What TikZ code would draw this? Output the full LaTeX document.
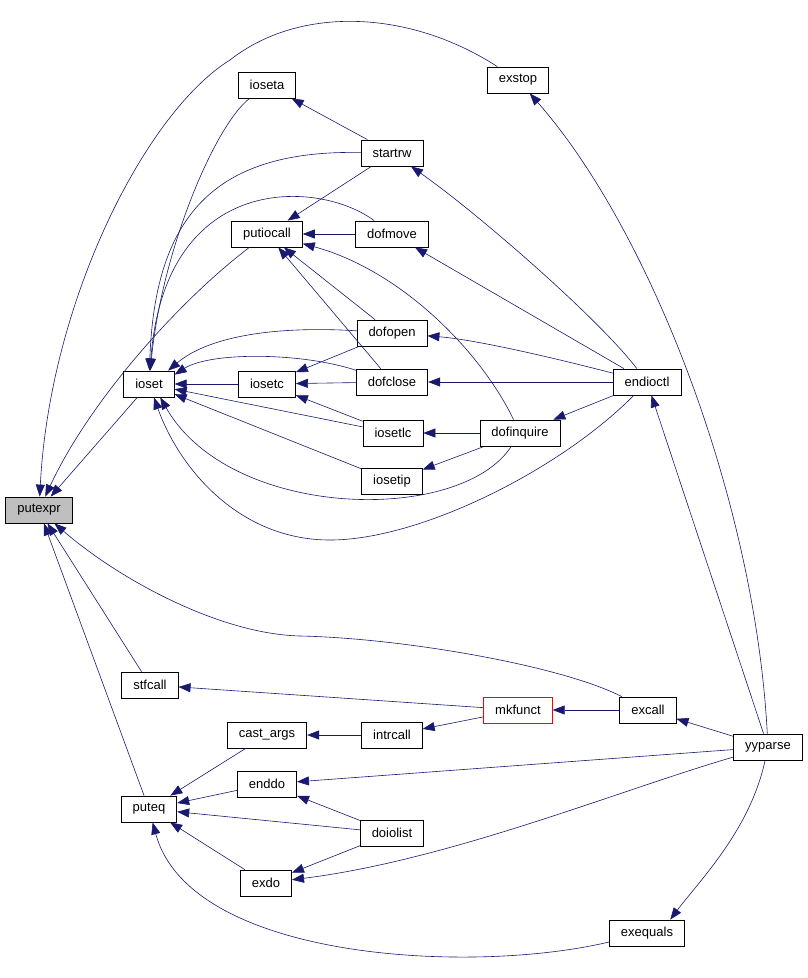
\documentclass[tikz,border=0pt]{standalone}
\usepackage{fontspec}
\setmainfont{Liberation Sans}
\usetikzlibrary{arrows.meta}
\tikzset{>={Triangle[length=12pt,width=9pt]}}
\definecolor{callblue}{HTML}{191970}

\begin{document}
\begin{tikzpicture}[x=1pt,y=-1pt,
                    func/.style={draw=black,line width=0.8pt,fill=white,text=black,inner xsep=11.5pt,inner ysep=0pt,minimum height=26pt,font=\fontsize{13}{15}\selectfont},
                    target/.style={func,fill=black!25},
                    marked/.style={func,draw=red},
                    call/.style={->,color=callblue,line width=0.6pt},
       ]
       \useasboundingbox (0,0) rectangle (807,978);
       \node[target] (putexpr) at (39,510) {putexpr};
       \node[func] (ioseta) at (267,85) {ioseta};
       \node[func] (exstop) at (518,80) {exstop};
       \node[func] (startrw) at (392,153) {startrw};
       \node[func] (putiocall) at (267,234) {putiocall};
       \node[func] (dofmove) at (392,234) {dofmove};
       \node[func] (dofopen) at (392,333) {dofopen};
       \node[func] (ioset) at (149,384) {ioset};
       \node[func] (iosetc) at (267,384) {iosetc};
       \node[func] (dofclose) at (392,382) {dofclose};
       \node[func] (endioctl) at (647,382) {endioctl};
       \node[func] (iosetlc) at (393,433) {iosetlc};
       \node[func] (dofinquire) at (520,433) {dofinquire};
       \node[func] (iosetip) at (392,481) {iosetip};
       \node[func] (stfcall) at (150,685) {stfcall};
       \node[marked] (mkfunct) at (518,710) {mkfunct};
       \node[func] (excall) at (648,710) {excall};
       \node[func] (cast_args) at (267,735) {cast\_args};
       \node[func] (intrcall) at (392,735) {intrcall};
       \node[func] (yyparse) at (768,747) {yyparse};
       \node[func] (enddo) at (267,784) {enddo};
       \node[func] (puteq) at (149,809) {puteq};
       \node[func] (doiolist) at (392,833) {doiolist};
       \node[func] (exdo) at (266,883) {exdo};
       \node[func] (exequals) at (647,933) {exequals};
       \path[call]
           (ioset) edge (putexpr)
           (stfcall) edge (putexpr)
           (puteq) edge (putexpr)
           (iosetc) edge (ioset)
           (iosetlc) edge (ioset)
           (iosetip) edge (ioset)
           (dofopen) edge (iosetc)
           (dofclose) edge (iosetc)
           (iosetlc) edge (iosetc)
           (startrw) edge (ioseta)
           (startrw) edge (putiocall)
           (dofmove) edge (putiocall)
           (dofopen) edge (putiocall)
           (dofclose) edge (putiocall)
           (endioctl) edge (dofmove)
           (endioctl) edge (dofclose)
           (endioctl) edge (dofinquire)
           (dofinquire) edge (iosetlc)
           (dofinquire) edge (iosetip)
           (yyparse) edge (endioctl)
           (yyparse) edge (excall)
           (yyparse) edge (enddo)
           (excall) edge (mkfunct)
           (mkfunct) edge (stfcall)
           (mkfunct) edge (intrcall)
           (intrcall) edge (cast_args)
           (cast_args) edge (puteq)
           (enddo) edge (puteq)
           (doiolist) edge (puteq)
           (exdo) edge (puteq)
           (doiolist) edge (enddo)
           (doiolist) edge (exdo)
           ;
       \draw[call] (exstop) .. controls (410,10) and (300,5) .. (230,60) .. controls (146,112) and (50,300) .. (putexpr);
       \draw[call] (putiocall) .. controls (180,300) and (90,400) .. (putexpr);
       \draw[call] (excall) .. controls (560,665) and (400,638) .. (300,636) .. controls (220,634) and (120,580) .. (putexpr);
       \draw[call] (ioseta) .. controls (215,125) and (162,250) .. (ioset);
       \draw[call] (startrw) .. controls (220,150) and (155,210) .. (ioset);
       \draw[call] (dofmove) .. controls (320,180) and (165,170) .. (ioset);
       \draw[call] (dofopen) .. controls (280,326) and (210,335) .. (ioset.35);
       \draw[call] (dofclose) .. controls (300,352) and (210,352) .. (ioset.20);
       \draw[call] (dofinquire) .. controls (460,525) and (230,520) .. (ioset.-50);
       \draw[call] (endioctl) .. controls (560,470) and (420,540) .. (330,540) .. controls (240,540) and (180,470) .. (ioset.-70);
       \draw[call] (endioctl) .. controls (600,320) and (480,215) .. (startrw);
       \draw[call] (endioctl) .. controls (570,362) and (480,340) .. (dofopen);
       \draw[call] (dofinquire) .. controls (480,350) and (400,270) .. (putiocall);
       \draw[call] (yyparse) .. controls (755,500) and (650,230) .. (exstop);
       \draw[call] (yyparse) .. controls (620,790) and (450,860) .. (exdo);
       \draw[call] (yyparse) .. controls (750,830) and (700,880) .. (exequals.30);
       \draw[call] (exequals) .. controls (470,975) and (190,960) .. (puteq);
    \end{tikzpicture}
\end{document}
